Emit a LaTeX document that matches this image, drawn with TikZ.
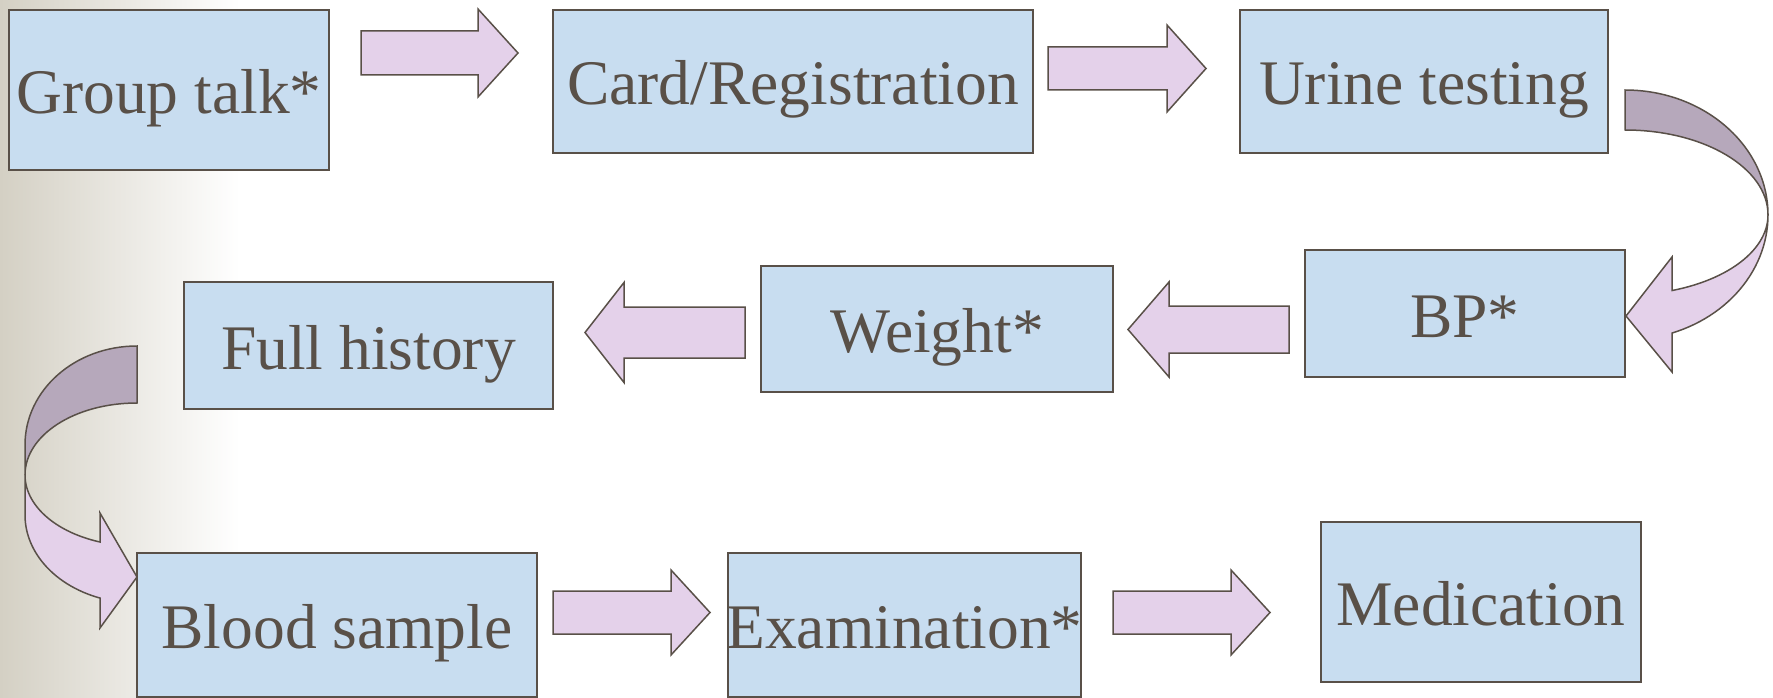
\documentclass[tikz,border=0pt]{standalone}
\usepackage{fontspec}
\setmainfont{Liberation Serif}
\definecolor{ink}{RGB}{89,80,72}
\definecolor{boxfill}{RGB}{200,221,240}
\definecolor{arrowfill}{RGB}{228,209,234}
\definecolor{backfill}{RGB}{182,168,187}
\definecolor{bgleft}{RGB}{212,208,196}
\tikzset{
  stepbox/.style={draw=ink, line width=1.5pt, fill=boxfill, inner sep=0pt, outer sep=0pt},
  steptext/.style={text=ink, inner sep=0pt, font=\fontsize{63.5}{70}\selectfont, text height=47pt, text depth=0pt},
  barrow/.style={draw=ink, line width=1.5pt, fill=arrowfill, line join=miter},
  backarrow/.style={draw=ink, line width=1.5pt, fill=backfill, line join=miter}
}
\newcommand\blockarrow[6]{%
  \filldraw[barrow] (#1,#4-#6) -- (#2,#4-#6) -- (#2,#4-#5) -- (#3,#4) -- (#2,#4+#5) -- (#2,#4+#6) -- (#1,#4+#6) -- cycle;}
\begin{document}
\begin{tikzpicture}[x=1pt,y=-1pt]
\useasboundingbox (0,0) rectangle (1773,698);
\shade[left color=bgleft, right color=white] (0,0) rectangle (240,698);
% boxes
\node[stepbox, minimum width=320pt, minimum height=160pt] (group) at (169,90) {};
\node[stepbox, minimum width=480pt, minimum height=143pt] (card) at (793,81.5) {};
\node[stepbox, minimum width=368pt, minimum height=143pt] (urine) at (1424,81.5) {};
\node[stepbox, minimum width=320pt, minimum height=127pt] (bp) at (1465,313.5) {};
\node[stepbox, minimum width=352pt, minimum height=126pt] (weight) at (937,329) {};
\node[stepbox, minimum width=369pt, minimum height=127pt] (full) at (368.5,345.5) {};
\node[stepbox, minimum width=400pt, minimum height=144pt] (blood) at (337,625) {};
\node[stepbox, minimum width=353pt, minimum height=144pt] (exam) at (904.5,625) {};
\node[stepbox, minimum width=320pt, minimum height=160pt] (med) at (1481,602) {};
% texts
\node[steptext] (group-t) at (group.center) {Group talk*};
\node[steptext] (card-t) at (card.center) {Card/Registration};
\node[steptext] (urine-t) at (urine.center) {Urine testing};
\node[steptext] (bp-t) at (bp.center) {BP*};
\node[steptext] (weight-t) at (weight.center) {Weight*};
\node[steptext] (full-t) at (full.center) {Full history};
\node[steptext] (blood-t) at (blood.center) {Blood sample};
\node[steptext] (exam-t) at (exam.center) {Examination*};
\node[steptext] (med-t) at (med.center) {Medication};
% straight block arrows
\blockarrow{361}{478}{518}{53}{44}{22}
\blockarrow{1048}{1167}{1206}{68.5}{43.5}{21.5}
\blockarrow{1289}{1169}{1128}{329.5}{47.5}{23.5}
\blockarrow{745}{624}{585}{332.5}{50}{25.5}
\blockarrow{553}{671}{710}{612.5}{42.5}{21.5}
\blockarrow{1113}{1231}{1270}{612.5}{42.5}{21.5}
% curved arrow: Urine testing -> BP
\filldraw[backarrow] (1625,90) .. controls (1704,90) and (1768,146) .. (1768,215)
  .. controls (1768,168) and (1704,130) .. (1625,130) -- cycle;
\filldraw[barrow] (1768,215)
  -- plot[domain=0:70.8, samples=30, variable=\a] ({1625+143*cos(\a)},{215+125*sin(\a)})
  -- (1672,372) -- (1626,316) -- (1672,257)
  -- plot[domain=70.8:0, samples=30, variable=\a] ({1625+143*cos(\a)},{215+80*sin(\a)})
  -- cycle;
% curved arrow: Full history -> Blood sample
\filldraw[backarrow] (137,346) .. controls (75,346) and (25,390) .. (25,445)
  -- (25,475) .. controls (25,435) and (75,403) .. (137,403) -- cycle;
\filldraw[barrow] (25,475) -- (25,515)
  -- plot[domain=180:109.2, samples=30, variable=\a] ({137+112*cos(\a)},{515+88*sin(\a)})
  -- (100,628) -- (137,577) -- (100,513)
  -- plot[domain=109.2:180, samples=30, variable=\a] ({137+112*cos(\a)},{475+71*sin(\a)})
  -- cycle;
\end{tikzpicture}
\end{document}
